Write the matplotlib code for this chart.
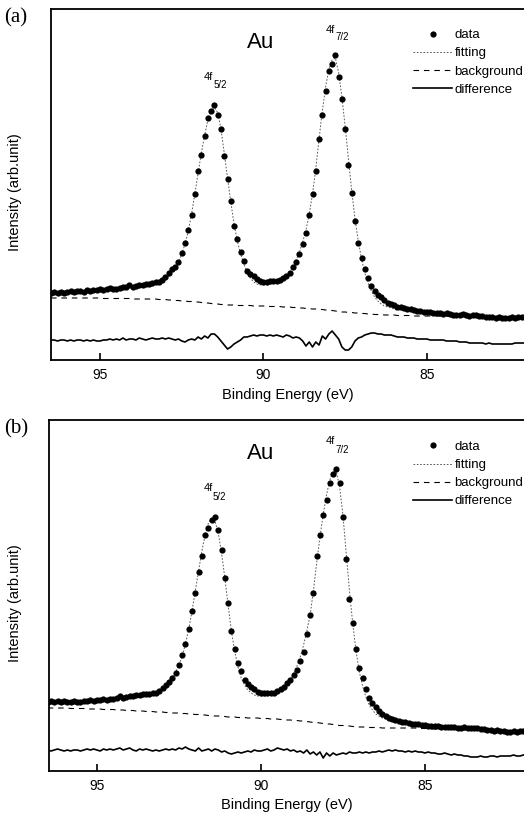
import numpy as np
import matplotlib
matplotlib.use("Agg")
import matplotlib.pyplot as plt

plt.rcParams["font.family"] = ["Liberation Sans", "DejaVu Sans"]
plt.rcParams["lines.scale_dashes"] = False

# binding energy scan, 0.1 eV step from 96.5 down to 82.0 eV
be = np.round(96.5 - 0.1 * np.arange(146), 1)

# panel (a), intensities in arb. units
data_a = [
    58, 59, 58, 59, 58, 59, 60, 59, 60, 60,
    59, 61, 60, 61, 61, 62, 61, 62, 63, 62,
    62, 63, 64, 64, 66, 64, 65, 66, 66, 67,
    67, 68, 69, 69, 71, 74, 78, 82, 84, 89,
    98, 108, 121, 136, 157, 180, 196, 215, 233, 240,
    246, 236, 222, 195, 172, 150, 125, 112, 99, 90,
    80, 77, 75, 72, 70, 69, 69, 70, 70, 70,
    71, 73, 75, 78, 84, 89, 97, 107, 118, 136,
    157, 180, 212, 236, 260, 280, 287, 296, 274, 252,
    222, 186, 158, 130, 108, 93, 82, 73, 65, 60,
    56, 54, 51, 48, 47, 46, 44, 44, 43, 42,
    42, 41, 40, 40, 39, 39, 39, 38, 38, 38,
    37, 38, 37, 36, 36, 36, 37, 36, 35, 36,
    36, 35, 35, 34, 34, 34, 33, 34, 33, 33,
    33, 34, 33, 34, 34, 34]
fit_a = [
    58, 58, 58, 59, 59, 59, 59, 59, 60, 60,
    60, 60, 60, 61, 61, 61, 61, 62, 62, 62,
    62, 63, 63, 63, 64, 64, 64, 65, 65, 66,
    66, 67, 68, 69, 70, 72, 75, 78, 82, 88,
    97, 107, 120, 137, 157, 178, 198, 216, 231, 241,
    244, 238, 222, 198, 173, 149, 127, 110, 97, 87,
    79, 73, 69, 67, 66, 66, 66, 67, 68, 69,
    70, 72, 75, 79, 84, 91, 99, 109, 121, 137,
    157, 182, 212, 240, 264, 282, 291, 293, 278, 254,
    224, 192, 160, 132, 110, 92, 78, 68, 60, 54,
    50, 47, 45, 44, 43, 42, 41, 41, 40, 40,
    39, 39, 39, 38, 38, 38, 37, 37, 37, 37,
    37, 36, 36, 36, 36, 36, 35, 35, 35, 35,
    35, 35, 35, 34, 34, 34, 34, 34, 34, 34,
    34, 34, 34, 34, 34, 34]
bg_a = [
    53, 53, 53, 53, 53, 53, 53, 53, 53, 53,
    53, 53, 53, 53, 53, 53, 52.5, 52.5, 52.5, 52.5,
    52.5, 52.5, 52.5, 52.5, 52.5, 52, 52, 52, 52, 52,
    52, 52, 52, 51.5, 51.5, 51.5, 51, 51, 50.5, 50.5,
    50, 50, 49.5, 49.5, 49, 49, 48.5, 48, 48, 47.5,
    47, 47, 46.5, 46.5, 46, 46, 46, 45.5, 45.5, 45.5,
    45.5, 45.5, 45, 45, 45, 45, 45, 44.5, 44.5, 44.5,
    44.5, 44, 44, 44, 43.5, 43.5, 43, 43, 42.5, 42.5,
    42, 42, 41.5, 41.5, 41, 41, 40.5, 40, 39.5, 39,
    39, 38.5, 38.5, 38, 38, 37.5, 37.5, 37, 37, 36.5,
    36.5, 36.5, 36, 36, 36, 36, 35.5, 35.5, 35.5, 35.5,
    35.5, 35, 35, 35, 35, 35, 35, 35, 35, 35,
    35, 35, 34.5, 34.5, 34.5, 34.5, 34.5, 34.5, 34.5, 34.5,
    34, 34, 34, 34, 34, 34, 34, 34, 34, 34,
    34, 34, 34, 34, 34, 34]
diff_a = [
    11, 11, 10, 11, 11, 10, 11, 10, 11, 11,
    10, 11, 10, 11, 10, 10, 11, 11, 12, 11,
    12, 11, 13, 11, 12, 12, 11, 13, 12, 11,
    12, 13, 12, 12, 13, 12, 13, 12, 11, 12,
    10, 9, 11, 12, 11, 14, 12, 15, 13, 17,
    17, 14, 10, 6, 2, 4, 7, 9, 11, 14,
    14, 15, 16, 15, 16, 16, 15, 16, 15, 16,
    15, 14, 16, 15, 13, 14, 13, 10, 5, 9,
    4, 9, 6, 15, 12, 17, 20, 16, 12, 4,
    1, 1, 4, 10, 13, 14, 16, 17, 18, 18,
    17, 17, 16, 16, 16, 15, 14, 14, 14, 13,
    13, 13, 12, 12, 12, 12, 11, 11, 11, 11,
    11, 10, 10, 10, 10, 9, 9, 9, 8, 8,
    8, 8, 8, 7, 8, 7, 7, 7, 7, 7,
    7, 7, 8, 8, 8, 8]

# panel (b)
data_b = [
    69, 70, 69, 70, 69, 70, 69, 69, 70, 69,
    69, 70, 70, 71, 70, 71, 71, 72, 71, 72,
    72, 73, 75, 73, 74, 75, 75, 76, 76, 77,
    77, 77, 78, 78, 80, 83, 86, 89, 93, 98,
    106, 116, 127, 142, 160, 178, 199, 215, 236, 243,
    251, 254, 241, 221, 193, 168, 140, 122, 108, 100,
    91, 87, 84, 82, 79, 78, 78, 78, 78, 78,
    80, 82, 84, 88, 91, 96, 101, 110, 119, 137,
    156, 178, 215, 236, 256, 271, 288, 297, 302, 288,
    254, 212, 172, 148, 122, 103, 93, 82, 73, 68,
    64, 60, 57, 55, 53, 52, 51, 50, 49, 49,
    48, 47, 47, 47, 46, 46, 45, 45, 45, 45,
    44, 44, 44, 44, 44, 43, 43, 44, 43, 43,
    43, 43, 42, 42, 41, 41, 40, 41, 40, 40,
    39, 39, 40, 39, 40, 40]
fit_b = [
    69, 69, 69, 69, 69, 69, 69, 69, 69, 69,
    70, 70, 70, 70, 70, 71, 71, 71, 71, 72,
    72, 72, 73, 73, 74, 74, 75, 75, 76, 76,
    77, 77, 78, 79, 80, 82, 85, 88, 93, 99,
    106, 115, 127, 142, 160, 180, 200, 220, 236, 248,
    253, 250, 238, 218, 193, 166, 140, 120, 104, 93,
    86, 81, 78, 76, 75, 75, 75, 75, 76, 77,
    79, 81, 84, 88, 92, 98, 105, 114, 126, 140,
    156, 180, 208, 234, 257, 276, 291, 300, 299, 284,
    256, 218, 180, 147, 120, 99, 85, 74, 66, 61,
    57, 55, 53, 52, 51, 50, 49, 49, 48, 48,
    47, 47, 47, 46, 46, 46, 45, 45, 45, 45,
    44, 44, 44, 44, 44, 43, 43, 43, 43, 43,
    43, 42, 42, 42, 41, 41, 41, 41, 40, 40,
    40, 40, 40, 40, 40, 40]
bg_b = [
    63, 63, 63, 63, 63, 63, 63, 62.5, 62.5, 62.5,
    62.5, 62.5, 62, 62, 62, 62, 62, 61.5, 61.5, 61.5,
    61.5, 61, 61, 61, 60.5, 60.5, 60.5, 60, 60, 60,
    59.5, 59.5, 59.5, 59, 59, 59, 58.5, 58.5, 58, 58,
    58, 57.5, 57.5, 57, 57, 56.5, 56.5, 56, 56, 55.5,
    55.5, 55, 55, 54.5, 54.5, 54, 54, 54, 53.5, 53.5,
    53.5, 53, 53, 53, 53, 52.5, 52.5, 52.5, 52, 52,
    52, 51.5, 51.5, 51, 51, 50.5, 50.5, 50, 50, 49.5,
    49, 48.5, 48.5, 48, 47.5, 47, 47, 46.5, 46, 45.5,
    45.5, 45, 45, 44.5, 44.5, 44, 44, 44, 43.5, 43.5,
    43.5, 43.5, 43, 43, 43, 43, 43, 43, 43, 43,
    43, 43, 43, 42.5, 42.5, 42.5, 42.5, 42, 42, 42,
    42, 42, 41.5, 41.5, 41.5, 41.5, 41, 41, 41, 41,
    41, 41, 40.5, 40.5, 40.5, 40, 40, 40, 40, 40,
    40, 40, 40, 40, 40, 40]
diff_b = [
    21, 20, 21, 22, 21, 20, 21, 20, 21, 21,
    20, 21, 22, 21, 22, 21, 20, 22, 21, 22,
    21, 22, 23, 21, 22, 23, 21, 20, 22, 21,
    22, 21, 20, 21, 20, 21, 22, 21, 22, 21,
    23, 22, 24, 22, 21, 20, 23, 20, 21, 22,
    20, 22, 21, 19, 20, 18, 17, 18, 19, 18,
    19, 20, 19, 21, 20, 20, 21, 22, 20, 21,
    23, 22, 21, 22, 20, 21, 19, 20, 18, 21,
    17, 19, 16, 19, 13, 18, 15, 18, 16, 17,
    18, 17, 19, 18, 18, 19, 18, 19, 18, 19,
    19, 20, 19, 20, 21, 20, 21, 20, 20, 19,
    20, 19, 20, 19, 19, 18, 19, 18, 18, 17,
    17, 18, 17, 16, 17, 16, 16, 15, 15, 14,
    14, 14, 15, 14, 14, 15, 15, 14, 15, 15,
    15, 15, 16, 15, 15, 16]

xticks = [95, 90, 85]


def panel(ax, data, fit, bg, diff, xlim, ylim, au, p52, p72, leg_xy, ylab_xy, xlab_y):
    ax.plot(be, fit, color="0.35", lw=0.7, ls=(0, (1.2, 1.2)), label="fitting", zorder=2)
    ax.plot(be, bg, color="black", lw=0.8, dashes=(4, 3.5), label="background", zorder=2)
    ax.plot(be, diff, color="black", lw=1.2, label="difference", zorder=2)
    ax.plot(be, data, "o", color="black", ms=4.5, mew=0, label="data", zorder=3)
    ax.set_xlim(*xlim)
    ax.set_ylim(*ylim)
    ax.set_xticks(xticks)
    ax.set_yticks([])
    ax.tick_params(axis="x", direction="in", length=5, width=1.2, labelsize=10, pad=6)
    for s in ["left", "bottom", "top"]:
        ax.spines[s].set_linewidth(1.3)
    ax.spines["right"].set_visible(False)
    ax.set_xlabel("Binding Energy (eV)", fontsize=10.5, va="center")
    ax.xaxis.set_label_coords(0.5, xlab_y)
    ax.set_ylabel("Intensity (arb.unit)", fontsize=10.5, va="center")
    ax.yaxis.set_label_coords(*ylab_xy)
    ax.text(au[0], au[1], "Au", fontsize=16, ha="center", va="baseline")
    for (x0, y0, x1, y1, sub) in [p52 + ("5/2",), p72 + ("7/2",)]:
        ax.text(x0, y0, "4f", fontsize=8, ha="left", va="baseline")
        ax.text(x1, y1, sub, fontsize=7, ha="left", va="baseline")
    h, l = ax.get_legend_handles_labels()
    order = [3, 0, 1, 2]
    ax.legend([h[i] for i in order], [l[i] for i in order], loc="upper left",
              bbox_to_anchor=leg_xy, frameon=False, fontsize=9.5, borderpad=0,
              borderaxespad=0, handlelength=3.0, handletextpad=0.15,
              labelspacing=0.45, numpoints=1)


fig = plt.figure(figsize=(5.24, 8.18), dpi=100)
ax_a = fig.add_axes([51 / 524, 1 - 360 / 818, 473 / 524, 351 / 818])
ax_b = fig.add_axes([49 / 524, 1 - 771 / 818, 475 / 524, 351 / 818])

panel(ax_a, data_a, fit_a, bg_a, diff_a, (96.5, 82.03), (-9, 342),
      (90.08, 303), (91.82, 271, 91.54, 263), (88.09, 318, 87.81, 311),
      (0.765, 0.943), (-0.076, 0.479), -0.10)
panel(ax_b, data_b, fit_b, bg_b, diff_b, (96.46, 81.98), (0, 351),
      (90.0, 312), (91.74, 280, 91.46, 271), (88.02, 327, 87.74, 318),
      (0.766, 0.941), (-0.072, 0.479), -0.097)

fig.text(4 / 524, 1 - 18 / 818, "(a)", fontsize=15, family=["Liberation Serif", "DejaVu Serif"],
         ha="left", va="center")
fig.text(4 / 524, 1 - 429 / 818, "(b)", fontsize=15, family=["Liberation Serif", "DejaVu Serif"],
         ha="left", va="center")

fig.savefig("out.png", dpi=100)
